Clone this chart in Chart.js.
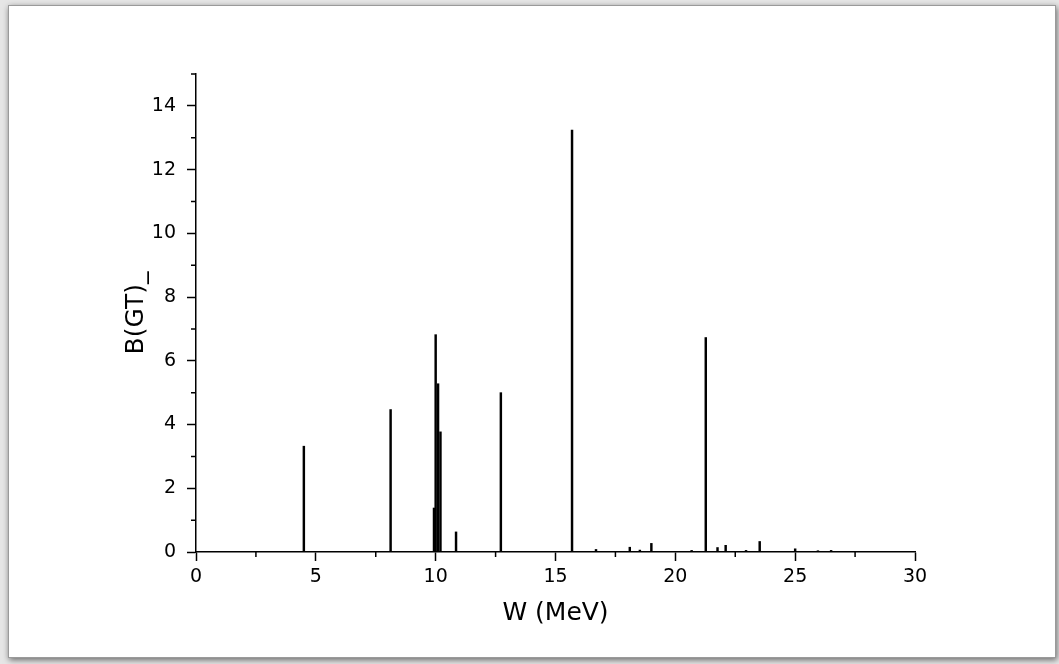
<!DOCTYPE html>
<html>
<head>
<meta charset="utf-8">
<script src="https://cdn.jsdelivr.net/npm/chart.js@4"></script>
<style>
  body { margin: 0; background: #e6e6e6; width: 1059px; height: 664px; overflow: hidden; position: relative; }
  #frame { position: absolute; left: 8px; top: 5px; width: 1046px; height: 651px; background: #fff;
           border: 1px solid #9a9a9a; box-shadow: 1px 2px 6px rgba(0,0,0,0.55); }
  #wrap { position: absolute; left: 0; top: 0; width: 1059px; height: 664px; }
</style>
</head>
<body>
<div id="frame"></div>
<div id="wrap"><canvas id="myChart"></canvas></div>
<script>
// excitation energy W (MeV) and strength B(GT)-
energies = [4.5, 8.12, 9.93, 10.0, 10.1, 10.2, 10.85, 12.72, 15.69, 16.69, 18.1, 18.52, 19.0, 20.68, 21.27, 21.76, 22.1, 22.95, 23.52, 25.0, 25.95, 26.5];
strengths = [3.32, 4.47, 1.38, 6.82, 5.28, 3.77, 0.63, 5.0, 13.24, 0.08, 0.15, 0.06, 0.27, 0.05, 6.73, 0.14, 0.21, 0.05, 0.33, 0.1, 0.04, 0.05];
xMajor = [0, 5, 10, 15, 20, 25, 30];
yMajor = [0, 2, 4, 6, 8, 10, 12, 14];

const points = energies.map((e, i) => ({x: e, y: strengths[i]}));

// short minor ticks between the major ones
const minorTicks = {
  id: 'minorTicks',
  afterDraw(chart) {
    const c = chart.ctx;
    const xs = chart.scales.x, ys = chart.scales.y;
    c.save();
    c.strokeStyle = '#000';
    c.lineWidth = 1.5;
    c.beginPath();
    for (let v = 2.5; v < 30; v += 5) {
      const px = xs.getPixelForValue(v);
      c.moveTo(px, ys.bottom); c.lineTo(px, ys.bottom + 5);
    }
    for (let v = 1; v <= 15; v += 2) {
      const py = ys.getPixelForValue(v);
      c.moveTo(xs.left, py); c.lineTo(xs.left - 5, py);
    }
    c.stroke();
    c.restore();
  }
};

function makeChart() {
  const ctx = document.getElementById('myChart');
  new Chart(ctx, {
    type: 'bar',
    data: {
      datasets: [{
        data: points,
        backgroundColor: '#000',
        barThickness: 1.8,
        borderWidth: 0
      }]
    },
    options: {
      responsive: false,
      animation: false,
      layout: { padding: { left: 120, top: 74, right: 144, bottom: 0 } },
      plugins: { legend: { display: false }, tooltip: { enabled: false } },
      scales: {
        x: {
          type: 'linear', min: 0, max: 30, offset: false,
          afterFit: s => { s.height = 112; },
          ticks: {
            stepSize: 5, padding: 5, color: '#000', maxRotation: 0,
            font: { family: 'DejaVu Sans', size: 19 },
            callback: v => xMajor.includes(v) ? v : ''
          },
          grid: { offset: false, drawOnChartArea: false, tickLength: 9, tickWidth: 1.5, tickColor: '#000' },
          border: { color: '#000', width: 1.5 },
          title: {
            display: true, text: 'W (MeV)', color: '#000',
            font: { family: 'DejaVu Sans', size: 25 }, padding: { top: 0, bottom: 36 }
          }
        },
        y: {
          min: 0, max: 15,
          afterFit: s => { s.width = 76; },
          ticks: {
            stepSize: 2, padding: 11, color: '#000',
            font: { family: 'DejaVu Sans', size: 19 },
            callback: v => yMajor.includes(v) ? v : ''
          },
          grid: {
            offset: false, drawOnChartArea: false, tickLength: 9, tickWidth: 1.5,
            tickColor: c => (c.tick && yMajor.includes(c.tick.value)) ? '#000' : 'rgba(0,0,0,0)'
          },
          border: { color: '#000', width: 1.5 },
          title: {
            display: true, text: 'B(GT)_', color: '#000',
            font: { family: 'DejaVu Sans', size: 25 }, padding: { top: 1, bottom: 0 }
          }
        }
      }
    },
    plugins: [minorTicks]
  });
}

const cv = document.getElementById('myChart');
cv.width = 1059; cv.height = 664;
makeChart();
</script>
</body>
</html>
